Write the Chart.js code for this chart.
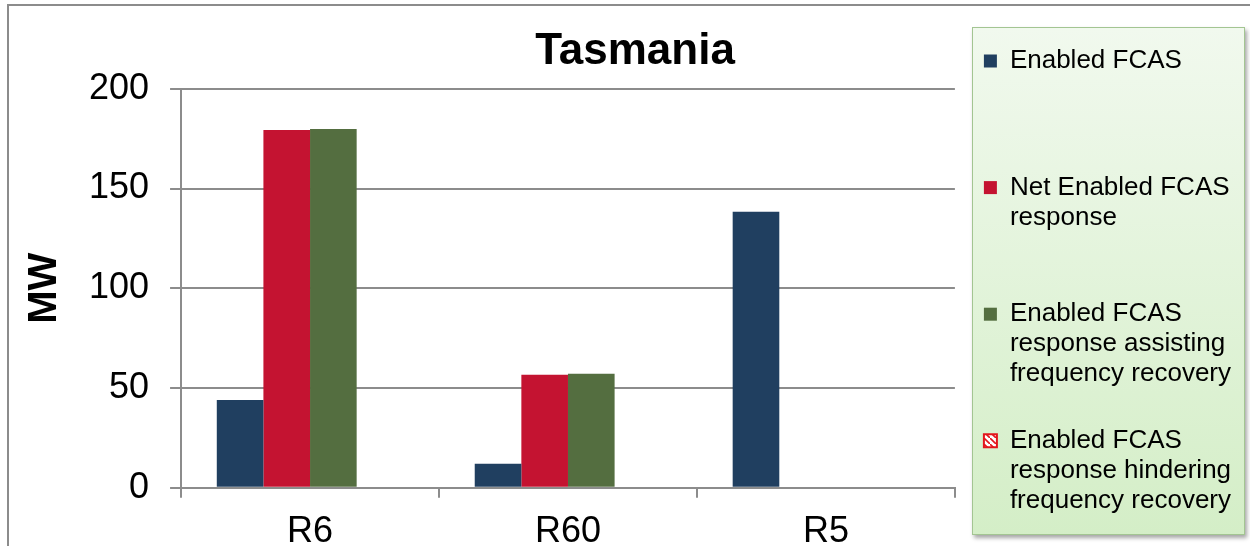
<!DOCTYPE html>
<html>
<head>
<meta charset="utf-8">
<script src="https://cdn.jsdelivr.net/npm/chart.js@4.4.1/dist/chart.umd.min.js"></script>
<style>
    html, body { margin: 0; padding: 0; background: #fff; overflow: hidden; }
    #marco { position: absolute; left: 7px; top: 4px; width: 1300px; height: 600px;
             border-top: 2px solid #8c8c8c; border-left: 2px solid #8c8c8c; }
    #fondoLeyenda { position: absolute; left: 972px; top: 27px; width: 271px; height: 506px;
                    border: 1px solid #a3c592; background: linear-gradient(#f1f9ee, #d4eec7);
                    box-shadow: 2px 3px 4px rgba(0, 0, 0, 0.35); }
    #grafico { position: absolute; left: 0; top: 0; }
</style>
</head>
<body>
<div id="marco"></div>
<div id="fondoLeyenda"></div>
<canvas id="grafico" width="1250" height="567"></canvas>
<script>
// datos (MW)
const categorias = ['R6', 'R60', 'R5'];
const habilitado = [44, 12, 138.4];
const netoHabilitado = [179.4, 56.7, 0];
const asistiendo = [179.9, 57.2, 0];
const obstaculizando = [0, 0, 0];
const marcasY = [0, 50, 100, 150, 200];

const nombresSeries = [
    ['Enabled FCAS'],
    ['Net Enabled FCAS', 'response'],
    ['Enabled FCAS', 'response assisting', 'frequency recovery'],
    ['Enabled FCAS', 'response hindering', 'frequency recovery']
];

const fuente = "'Liberation Sans', Arial, sans-serif";

window.onload = function () {
    crearGrafico();
};

// trama blanca con raya roja para la serie "hindering"
function crearTrama() {
    const c = document.createElement('canvas');
    c.width = 6;
    c.height = 6;
    const g = c.getContext('2d');
    g.fillStyle = '#ffffff';
    g.fillRect(0, 0, 6, 6);
    g.strokeStyle = '#e3151c';
    g.lineWidth = 1.6;
    g.beginPath();
    g.moveTo(-1, -1);
    g.lineTo(7, 7);
    g.stroke();
    return g.createPattern(c, 'repeat');
}

// cada texto de la leyenda ocupa el mismo alto (4 lineas), menos el ultimo
function lineasLeyenda(i) {
    const lineas = nombresSeries[i].slice();
    if (i < nombresSeries.length - 1) {
        while (lineas.length < 4) lineas.push('');
    }
    return lineas;
}

function crearGrafico() {
    const ctx = document.getElementById('grafico').getContext('2d');

    new Chart(ctx, {
        type: 'bar',
        data: {
            labels: categorias,
            datasets: [
                { label: nombresSeries[0].join(' '), data: habilitado, backgroundColor: '#203f60', borderWidth: 0 },
                { label: nombresSeries[1].join(' '), data: netoHabilitado, backgroundColor: '#c41331', borderWidth: 0 },
                { label: nombresSeries[2].join(' '), data: asistiendo, backgroundColor: '#546e40', borderWidth: 0 },
                {
                    label: nombresSeries[3].join(' '), data: obstaculizando,
                    backgroundColor: crearTrama(), borderColor: '#e3151c', borderWidth: 2, inflateAmount: 0
                }
            ]
        },
        options: {
            responsive: false,
            animation: false,
            categoryPercentage: 0.723,
            barPercentage: 1,
            layout: { padding: { left: 29, right: 9, top: 0, bottom: 0 } },
            plugins: {
                tooltip: { enabled: false },
                title: {
                    display: true,
                    text: 'Tasmania',
                    color: '#000',
                    font: { family: fuente, size: 44, weight: 'bold' },
                    padding: { top: 25, bottom: 11 }
                },
                legend: {
                    position: 'right',
                    align: 'start',
                    maxWidth: 400,
                    title: { display: true, text: '', font: { size: 10, lineHeight: 1 }, padding: { top: 31, bottom: 0 } },
                    labels: {
                        color: '#000',
                        font: { family: fuente, size: 26, lineHeight: 1.15 },
                        boxWidth: 13,
                        boxHeight: 13,
                        padding: 7,
                        generateLabels: function (chart) {
                            const items = Chart.defaults.plugins.legend.labels.generateLabels(chart);
                            items.forEach((item, i) => { item.text = lineasLeyenda(i); });
                            return items;
                        }
                    }
                }
            },
            scales: {
                x: {
                    grid: { display: true, drawOnChartArea: false, offset: true, tickLength: 10, color: '#8c8c8c', lineWidth: 2 },
                    border: { display: true, color: '#8c8c8c', width: 2 },
                    ticks: { color: '#000', font: { family: fuente, size: 36 }, padding: 13 }
                },
                y: {
                    min: 0,
                    max: 200,
                    afterBuildTicks: s => { s.ticks = marcasY.map(v => ({ value: v })); },
                    grid: { color: '#8c8c8c', lineWidth: 2, tickLength: 11 },
                    border: { display: true, color: '#8c8c8c', width: 2 },
                    ticks: { color: '#000', font: { family: fuente, size: 36 }, padding: 21 },
                    title: {
                        display: true,
                        text: 'MW',
                        color: '#000',
                        font: { family: fuente, size: 40, weight: 'bold', lineHeight: 0.8 },
                        padding: { top: 0, bottom: 7 }
                    }
                },
                // eje vacio: solo deja hueco entre el area del grafico y la leyenda
                hueco: {
                    position: 'right',
                    grid: { display: false },
                    border: { display: false },
                    ticks: { display: false },
                    afterFit: s => { s.width = 22; }
                }
            }
        }
    });
}
</script>
</body>
</html>
